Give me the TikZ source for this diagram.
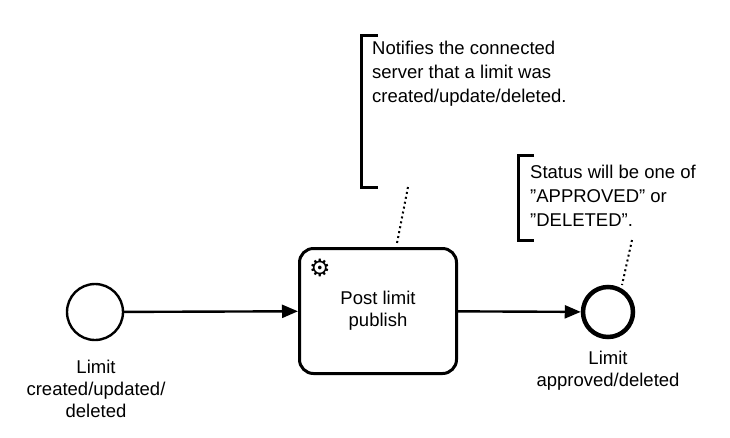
\documentclass[tikz,border=0pt]{standalone}
\usepackage{fontspec}
\setmainfont{Liberation Sans}
\newfontfamily\symfont{DejaVu Sans}
\usetikzlibrary{arrows.meta}

\begin{document}
\begin{tikzpicture}[x=1pt,y=-1pt,
  lbl/.style={font=\fontsize{18.5}{22}\selectfont,align=center},
  note/.style={font=\fontsize{18.5}{24}\selectfont,align=left,anchor=north west,inner sep=0pt},
  flow/.style={line width=2.4pt,-{Triangle[length=16pt,width=13pt]}},
  dots/.style={line width=2pt,dash pattern=on 2pt off 3pt}]
 \useasboundingbox (0,0) rectangle (730,437);

 \node[circle,draw,line width=2.4pt,minimum size=56pt,inner sep=0pt] (start) at (95,312) {};
 \node[draw,line width=3pt,rounded corners=14pt,minimum width=157pt,minimum height=125pt] (task) at (378,311) {};
 \node[lbl] (tasklbl) at (378,311) {Post limit\\publish};
 \node[circle,draw,line width=4.5pt,minimum size=50pt,inner sep=0pt] (end) at (608,312) {};

 % gears
 \node (gear) at (320,268) {\symfont\fontsize{24}{24}\selectfont ⚙};

 \node[lbl] (startlbl) at (96,389) {Limit\\created/updated/\\deleted};
 \node[lbl] (endlbl) at (608,371) {Limit\\approved/deleted};

 \draw[flow] (start) -- (task);
 \draw[flow] (task) -- (end);

 % annotations
 \draw[line width=3pt] (378,35) -- (361,35) -- (361,187) -- (378,187);
 \node[note] (note1) at (372,41) {Notifies the connected\\server that a limit was\\created/update/deleted.};
 \coordinate (n1) at (408,187);
 \draw[dots] (n1) -- (397,243);

 \draw[line width=3pt] (534,155) -- (518,155) -- (518,240) -- (534,240);
 \node[note] (note2) at (530,165) {Status will be one of\\{\char34}APPROVED{\char34} or\\{\char34}DELETED{\char34}.};
 \coordinate (n2) at (632,240);
 \draw[dots] (n2) -- (622,285);
\end{tikzpicture}
\end{document}
